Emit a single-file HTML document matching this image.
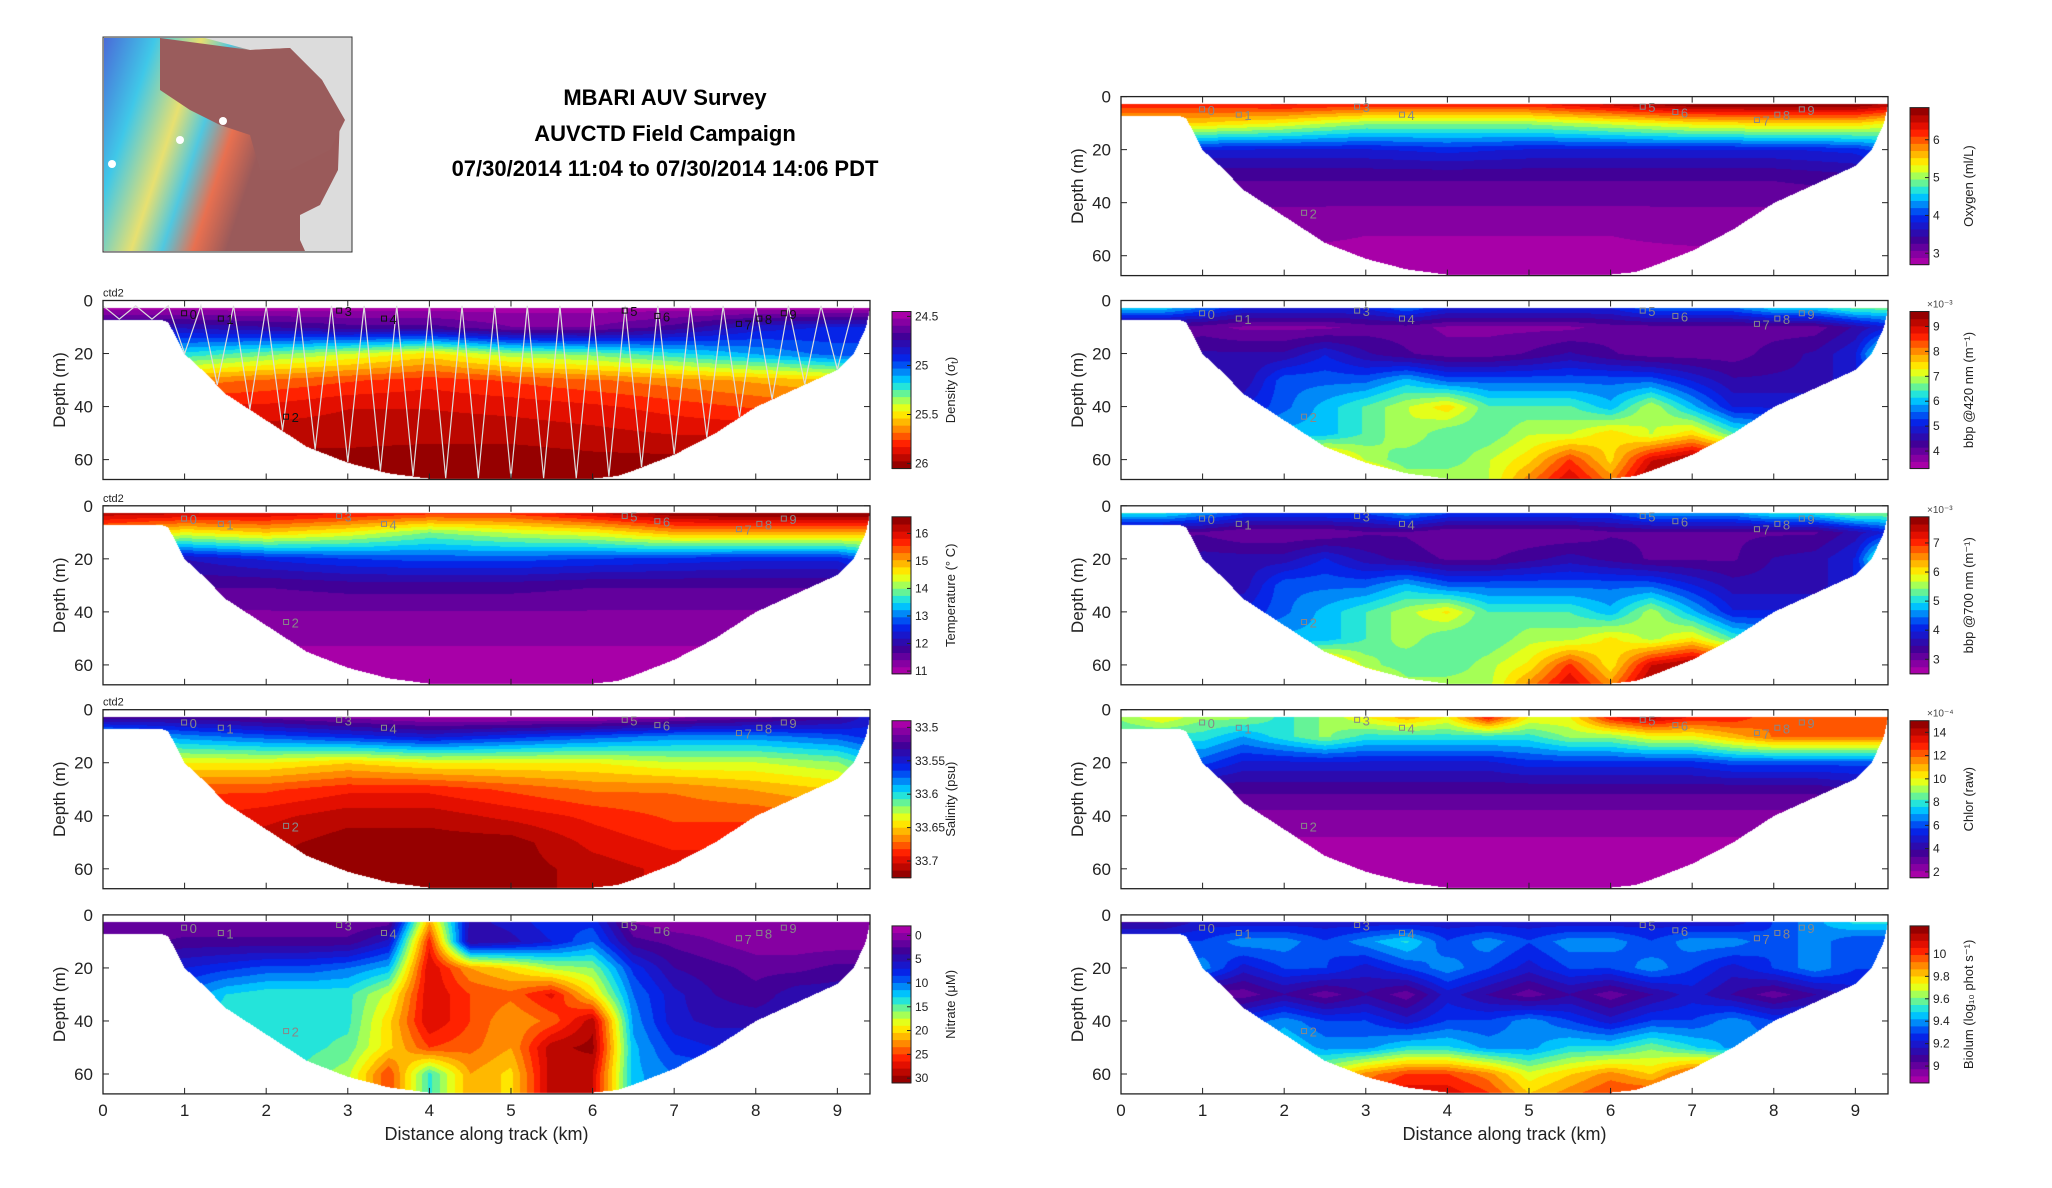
<!DOCTYPE html>
<html><head><meta charset="utf-8">
<style>
html,body{margin:0;padding:0;background:#fff;}
#root{position:relative;width:2052px;height:1188px;overflow:hidden;font-family:"Liberation Sans",sans-serif;}
canvas{position:absolute;}
svg{position:absolute;left:0;top:0;}
.t{font-family:"Liberation Sans",sans-serif;}
</style></head>
<body>
<div id="root">
<svg id="ov" width="2052" height="1188">
  <defs>
    <linearGradient id="mapg" x1="0" y1="0" x2="1" y2="0.3">
      <stop offset="0" stop-color="#4a6bd8"/><stop offset="0.2" stop-color="#40c8e8"/>
      <stop offset="0.38" stop-color="#e8e070"/><stop offset="0.5" stop-color="#50c8e0"/>
      <stop offset="0.62" stop-color="#e87050"/><stop offset="0.75" stop-color="#9a5a5a"/>
    </linearGradient>
  </defs>
  <g>
    <rect x="103" y="37" width="249" height="215" fill="#dcdcdc" stroke="#333" stroke-width="1"/>
    <path d="M104,38 L205,38 L250,50 L290,48 L322,80 L340,115 L338,170 L320,205 L300,215 L300,240 L305,251 L104,251 Z" fill="url(#mapg)"/>
    <path d="M160,38 L250,50 L290,48 L322,80 L345,120 L330,150 L290,170 L260,170 L250,135 L220,125 L190,110 L160,90 Z" fill="#9a5c5c"/>
    <circle cx="112" cy="164" r="4" fill="#fff"/><circle cx="180" cy="140" r="4" fill="#fff"/><circle cx="223" cy="121" r="4" fill="#fff"/>
  </g>
  <g font-weight="bold" font-size="22" text-anchor="middle" class="t">
    <text x="665" y="105">MBARI AUV Survey</text>
    <text x="665" y="141">AUVCTD Field Campaign</text>
    <text x="665" y="176">07/30/2014 11:04 to 07/30/2014 14:06 PDT</text>
  </g>
</svg>
</div>
<script>
// ---- shared data ----
const bathyKm = [0,0.7,0.8,0.9,1.0,1.25,1.5,2,2.5,3,3.5,4,5,6,6.3,6.5,7,7.5,8,8.5,9,9.2,9.35,9.4];
const bathyDepth = [7,7,8,14,20,27,35,45,55,61,65,67,67,67,66,64,58,50,40,33,26,20,10,3];
const gridDepths = [3,10,20,30,40,50,60,67];
const xs11 = [0,1,2,3,4,5,6,7,8,9,9.4];
const xs20 = [0,0.5,1,1.5,2,2.5,3,3.5,4,4.5,5,5.5,6,6.5,7,7.5,8,8.5,9,9.4];
const xTicks = [0,1,2,3,4,5,6,7,8,9];
const yTicks = [0,20,40,60];
const stationKm = [1.0,1.45,2.25,2.9,3.45,6.4,6.8,7.8,8.05,8.35];
const stationDepth = [5,7,44,4,7,4,6,9,7,5];
const stationLabel = ['0','1','2','3','4','5','6','7','8','9'];

const densityGrid = [
 [24.5,24.5,24.5,24.5,24.5,24.5,24.5,24.5,24.5,24.5,24.5],
 [24.8,24.8,24.75,24.7,24.7,24.6,24.6,24.7,24.85,24.9,24.9],
 [25.1,25.2,25.3,25.4,25.5,25.35,25.3,25.2,25.1,25.0,25.0],
 [25.6,25.65,25.7,25.75,25.8,25.75,25.7,25.65,25.6,25.55,25.5],
 [25.8,25.85,25.85,25.9,25.9,25.88,25.85,25.8,25.75,25.7,25.7],
 [25.95,25.95,25.95,25.95,25.95,25.95,25.93,25.9,25.9,25.9,25.9],
 [26.0,26.0,26.0,26.0,26.02,26.02,26.0,26.0,26.0,26.0,26.0],
 [26.05,26.05,26.05,26.05,26.05,26.05,26.05,26.05,26.05,26.05,26.05]];
const tempGrid = [
 [16.2,16.1,16.0,15.8,15.6,15.6,16.0,16.5,16.6,16.6,16.6],
 [15.0,14.5,14.8,14.5,14.0,14.3,14.5,15.0,15.0,15.0,15.0],
 [12.2,12.2,12.5,12.7,12.8,12.8,12.7,12.6,12.5,12.5,13.0],
 [11.7,11.7,11.7,11.8,11.8,11.8,11.7,11.7,11.7,11.7,11.8],
 [11.4,11.4,11.4,11.4,11.4,11.4,11.4,11.4,11.4,11.4,11.4],
 [11.2,11.2,11.2,11.2,11.2,11.2,11.2,11.2,11.2,11.2,11.2],
 [11.05,11.05,11.05,11.05,11.05,11.05,11.05,11.05,11.05,11.05,11.05],
 [11.0,11.0,11.0,11.0,11.0,11.0,11.0,11.0,11.0,11.0,11.0]];
const salinityGrid = [
 [33.53,33.53,33.52,33.51,33.5,33.5,33.5,33.51,33.52,33.53,33.55],
 [33.6,33.58,33.57,33.56,33.55,33.56,33.57,33.58,33.58,33.57,33.56],
 [33.64,33.64,33.64,33.65,33.64,33.64,33.64,33.63,33.63,33.62,33.6],
 [33.68,33.68,33.68,33.69,33.69,33.68,33.67,33.67,33.66,33.65,33.64],
 [33.69,33.69,33.7,33.71,33.71,33.7,33.69,33.68,33.68,33.67,33.66],
 [33.71,33.71,33.71,33.72,33.72,33.72,33.7,33.69,33.69,33.69,33.69],
 [33.72,33.72,33.72,33.72,33.72,33.72,33.71,33.7,33.7,33.7,33.7],
 [33.72,33.72,33.72,33.72,33.72,33.72,33.71,33.7,33.7,33.7,33.7]];
const nitrateGrid = [
 [1,1,1,1,1,1,1,2,22,5,6,8,8,1,0,0,0,0,0,0],
 [2,2,3,3,3,3,3,6,26,4,5,7,10,3,2,1,0,0,0,0],
 [6,6,7,8,9,9,10,12,28,22,20,17,16,8,4,3,2,2,3,3],
 [8,8,10,13,14,14,14,18,28,25,24,27,20,10,6,4,3,5,5,5],
 [10,10,12,14,14,14,14,20,28,25,22,24,29,11,6,5,5,5,5,5],
 [13,13,13,14,14,14,15,20,25,24,22,29,30,12,8,7,7,7,7,7],
 [14,14,14,14,14,15,17,25,14,22,20,29,28,12,10,10,10,10,10,10],
 [14,14,14,14,14,15,17,25,14,22,20,29,28,12,10,10,10,10,10,10]];
const oxygenGrid = [
 [6.2,6.2,6.3,6.2,6.2,6.2,6.5,6.8,6.8,6.8,6.6],
 [5.5,5.5,5.3,5.0,5.0,5.0,5.2,5.4,5.5,5.5,5.3],
 [3.8,3.8,3.8,3.8,3.9,3.8,3.8,3.8,3.8,3.9,4.2],
 [3.3,3.3,3.3,3.3,3.3,3.3,3.3,3.3,3.3,3.4,3.5],
 [3.1,3.1,3.1,3.1,3.1,3.1,3.1,3.1,3.1,3.1,3.1],
 [2.95,2.95,2.95,2.9,2.9,2.9,2.9,2.95,2.95,2.95,2.95],
 [2.85,2.85,2.85,2.85,2.85,2.85,2.85,2.85,2.85,2.85,2.85],
 [2.85,2.85,2.85,2.85,2.85,2.85,2.85,2.85,2.85,2.85,2.85]];
const bbp420Grid = [
 [6,6,5.5,5,5,5,5,5.5,5,5,5,5,5,5.5,5.5,5.5,6,6,6.5,6.5],
 [4,4,4,3.8,3.8,3.8,4,4,3.8,3.8,3.8,3.8,4,4,4,4,4,4,4.5,5],
 [4,4,4.5,4.5,4.5,5,4.5,4.2,4,4,4.2,4.5,4.2,4,4,4,4.3,4.5,5,7],
 [4.5,4.5,4.5,4.5,5.5,5.5,5.5,6,5.5,5.5,5.5,5.5,5.5,5.5,5,4.5,4.5,4.5,5,5],
 [5,5,5,5,5.5,6,6.5,7,7.5,6.5,6.5,6.5,6,7,6,5,5,5,5,5],
 [6,6,6,6,6,6,6.5,7,6.5,6.5,7,7,7.5,7,7.5,6.5,6,6,6,6],
 [7,7,7,7,7,8,7,6.5,6.5,7,7.5,8.5,7.5,9,9.5,9,7,7,7,7],
 [7,7,7,7,7,8.5,8,7,7,7,8,9,8,9.5,9.5,9,7,7,7,7]];
const bbp700Grid = [
 [5,5,4.6,4.2,4.2,4.2,4.2,4.6,4.2,4.2,4.2,4.2,4.2,4.6,4.6,4.6,5,5,5.4,5.4],
 [3.2,3.2,3.2,3,3,3,3.2,3.2,3,3,3,3,3.2,3.2,3.2,3.2,3.2,3.2,3.6,4],
 [3.2,3.2,3.6,3.6,3.6,4,3.6,3.4,3.2,3.2,3.4,3.6,3.4,3.2,3.2,3.2,3.5,3.6,4,6],
 [3.6,3.6,3.6,3.6,4.4,4.4,4.4,4.8,4.4,4.4,4.4,4.4,4.4,4.4,4,3.6,3.6,3.6,4,4],
 [4,4,4,4,4.4,4.8,5.2,5.6,6,5.2,5.2,5.2,4.8,5.6,4.8,4,4,4,4,4],
 [4.8,4.8,4.8,4.8,4.8,4.8,5.2,5.6,5.2,5.2,5.6,5.6,6,5.6,6,5.2,4.8,4.8,4.8,4.8],
 [5.6,5.6,5.6,5.6,5.6,6.5,5.6,5.2,5.2,5.6,6,7,6,7.4,7.8,7.4,5.6,5.6,5.6,5.6],
 [5.6,5.6,5.6,5.6,5.6,7,6.5,5.6,5.6,5.6,6.5,7.4,6.5,7.8,7.8,7.4,5.6,5.6,5.6,5.6]];
const chlorGrid = [
 [9,10,9,9,8,9,10,11,10,13,10,10,13,14,13,13,12,12,12,12],
 [8,8,8,7,8,9,8,8,8,8,8,9,9,10,10,11,12,12,12,12],
 [6,6,6,5,5,5,5,5,5,5,5.5,5.5,5.5,5.5,5.5,6,6,6,6,6],
 [3.5,3.5,3.5,3.5,3.5,3.5,3.5,3.5,3.5,3.5,3.5,3.5,3.5,3.5,3.5,3.5,3.5,3.5,4,4],
 [2.5,2.5,2.5,2.5,2.5,2.5,2.5,2.5,2.5,2.5,2.5,2.5,2.5,2.5,2.5,2.5,2.5,2.5,2.5,2.5],
 [2,2,2,2,2,2,2,2,2,2,2,2,2,2,2,2,2,2,2,2],
 [2,2,2,2,2,2,2,2,2,2,2,2,2,2,2,2,2,2,2,2],
 [2,2,2,2,2,2,2,2,2,2,2,2,2,2,2,2,2,2,2,2]];
const biolumGrid = [
 [9.1,9.1,9.2,9.2,9.2,9.2,9.2,9.2,9.2,9.2,9.2,9.2,9.2,9.2,9.2,9.2,9.3,9.4,9.5,9.5],
 [9.3,9.3,9.3,9.4,9.4,9.3,9.4,9.5,9.3,9.4,9.3,9.4,9.4,9.3,9.4,9.4,9.3,9.4,9.3,9.3],
 [9.3,9.3,9.4,9.2,9.3,9.3,9.2,9.3,9.4,9.3,9.2,9.3,9.3,9.4,9.3,9.2,9.3,9.4,9.3,9.3],
 [9.1,9.1,9.0,9.0,9.1,9.0,9.1,9.0,9.2,9.1,9.0,9.1,9.0,9.1,9.2,9.1,9.0,9.1,9.2,9.2],
 [9.2,9.2,9.2,9.3,9.4,9.3,9.3,9.2,9.3,9.3,9.4,9.3,9.2,9.3,9.3,9.4,9.3,9.3,9.3,9.3],
 [9.4,9.4,9.4,9.4,9.5,9.4,9.4,9.5,9.5,9.4,9.4,9.5,9.5,9.6,9.5,9.4,9.4,9.4,9.4,9.4],
 [9.5,9.5,9.5,9.5,9.6,9.7,9.9,10.0,10.0,9.9,9.7,9.8,9.9,9.8,10.0,10.1,9.6,9.5,9.5,9.5],
 [9.5,9.5,9.5,9.5,9.6,9.8,10.0,10.1,10.1,10.0,9.8,9.9,10.0,10.0,10.1,10.1,9.6,9.5,9.5,9.5]];

const densityTicks = [24.5,25,25.5,26];
const tempTicks = [11,12,13,14,15,16];
const salinityTicks = [33.5,33.55,33.6,33.65,33.7];
const nitrateTicks = [0,5,10,15,20,25,30];
const oxygenTicks = [3,4,5,6];
const bbp420Ticks = [4,5,6,7,8,9];
const bbp700Ticks = [3,4,5,6,7];
const chlorTicks = [2,4,6,8,10,12,14];
const biolumTicks = [9,9.2,9.4,9.6,9.8,10];

const LX=103, RX=1121, AW=767, AH=179, XMAX=9.4, DMAX=67.5;
const leftTops=[300.5,505.8,709.7,914.9], rightTops=[96.6,300.5,505.8,709.7,914.9];

const panels = [
 {name:'density',x0:LX,y0:leftTops[0],grid:densityGrid,xs:xs11,vmin:24.45,vmax:26.05,flip:true,ticks:densityTicks,label:'Density (σ',labelSub:'t',labelEnd:')',ctd:true,zig:true,markDark:true},
 {name:'temperature',x0:LX,y0:leftTops[1],grid:tempGrid,xs:xs11,vmin:10.9,vmax:16.6,flip:false,ticks:tempTicks,label:'Temperature (° C)',ctd:true},
 {name:'salinity',x0:LX,y0:leftTops[2],grid:salinityGrid,xs:xs11,vmin:33.49,vmax:33.725,flip:true,ticks:salinityTicks,label:'Salinity (psu)',ctd:true},
 {name:'nitrate',x0:LX,y0:leftTops[3],grid:nitrateGrid,xs:xs20,vmin:-2,vmax:31,flip:true,ticks:nitrateTicks,label:'Nitrate (μM)',bottom:true},
 {name:'oxygen',x0:RX,y0:rightTops[0],grid:oxygenGrid,xs:xs11,vmin:2.7,vmax:6.85,flip:false,ticks:oxygenTicks,label:'Oxygen (ml/L)'},
 {name:'bbp420',x0:RX,y0:rightTops[1],grid:bbp420Grid,xs:xs20,vmin:3.3,vmax:9.6,flip:false,ticks:bbp420Ticks,label:'bbp @420 nm (m⁻¹)',exp:'×10⁻³'},
 {name:'bbp700',x0:RX,y0:rightTops[2],grid:bbp700Grid,xs:xs20,vmin:2.5,vmax:7.9,flip:false,ticks:bbp700Ticks,label:'bbp @700 nm (m⁻¹)',exp:'×10⁻³'},
 {name:'chlorophyll',x0:RX,y0:rightTops[3],grid:chlorGrid,xs:xs20,vmin:1.5,vmax:15,flip:false,ticks:chlorTicks,label:'Chlor (raw)',exp:'×10⁻⁴'},
 {name:'bioluminescence',x0:RX,y0:rightTops[4],grid:biolumGrid,xs:xs20,vmin:8.85,vmax:10.25,flip:false,ticks:biolumTicks,label:'Biolum (log₁₀ phot s⁻¹)',bottom:true}
];

const stops=[[0,[168,0,168]],[0.15,[60,0,150]],[0.3,[0,40,240]],[0.45,[0,220,255]],[0.56,[150,255,100]],[0.64,[255,255,0]],[0.75,[255,150,0]],[0.87,[255,20,0]],[1,[150,0,0]]];
function cmap(t){t=Math.max(0,Math.min(1,t));for(let i=1;i<stops.length;i++){if(t<=stops[i][0]){const a=stops[i-1],b=stops[i];const f=(t-a[0])/(b[0]-a[0]);return [0,1,2].map(k=>Math.round(a[1][k]+f*(b[1][k]-a[1][k])));}}return stops[stops.length-1][1];}
function interp1(xa,ya,x){if(x<=xa[0])return ya[0];for(let i=1;i<xa.length;i++){if(x<=xa[i]){const f=(x-xa[i-1])/(xa[i]-xa[i-1]);return ya[i-1]+f*(ya[i]-ya[i-1]);}}return ya[ya.length-1];}
function idx(a,v){if(v<=a[0])return [0,0];for(let i=1;i<a.length;i++){if(v<=a[i])return [i-1,(v-a[i-1])/(a[i]-a[i-1])];}return [a.length-2,1];}
function sample(grid,xsA,x,d){const [i,fi]=idx(xsA,x),[j,fj]=idx(gridDepths,d);const a=grid[j][i],b=grid[j][i+1],c=grid[j+1][i],e=grid[j+1][i+1];return (a*(1-fi)+b*fi)*(1-fj)+(c*(1-fi)+e*fi)*fj;}

const root=document.getElementById('root');
const ov=document.getElementById('ov');
const NS='http://www.w3.org/2000/svg';
function el(tag,attrs,parent){const e=document.createElementNS(NS,tag);for(const k in attrs)e.setAttribute(k,attrs[k]);(parent||ov).appendChild(e);return e;}

panels.forEach(p=>{
  const xScale=km=>p.x0+km/XMAX*AW;
  const yScale=d=>p.y0+d/DMAX*AH;
  // field
  const cv=document.createElement('canvas');
  
  
  cv.width=AW;cv.height=Math.round(AH);cv.style.left=p.x0+'px';cv.style.top=Math.round(p.y0)+'px';
  root.insertBefore(cv,ov);
  const ctx=cv.getContext('2d');const img=ctx.createImageData(cv.width,cv.height);
  const N=22;
  for(let px=0;px<cv.width;px++){
    const km=(px+0.5)/AW*XMAX;const bot=interp1(bathyKm,bathyDepth,km);
    for(let py=0;py<cv.height;py++){
      const d=(py+0.5)/AH*DMAX;const o=(py*cv.width+px)*4;
      if(d<2.5||d>bot){img.data[o]=255;img.data[o+1]=255;img.data[o+2]=255;img.data[o+3]=255;continue;}
      const v=sample(p.grid,p.xs,km,d);let t=(v-p.vmin)/(p.vmax-p.vmin);t=Math.min(N-1,Math.floor(t*N))/(N-1);
      const c=cmap(t);img.data[o]=c[0];img.data[o+1]=c[1];img.data[o+2]=c[2];img.data[o+3]=255;
    }
  }
  ctx.putImageData(img,0,0);
  const g=el('g',{});
  
  
  if(p.zig){
    let pts=[];for(let k=0;k<=46;k++){const km=k*0.2;const bot=interp1(bathyKm,bathyDepth,km);pts.push(xScale(km)+','+yScale(k%2?bot:2));}
    const pl=el('polyline',{points:pts.join(' '),fill:'none',stroke:'#ddd','stroke-width':1.2},g);
    
    
  }
  stationKm.forEach((km,i)=>{
    const col=p.markDark?'#111':'#888';
    el('rect',{x:xScale(km)-3,y:yScale(stationDepth[i])-3,width:5,height:5,fill:'none',stroke:col,'stroke-width':1},g);
    const tx=el('text',{x:xScale(km)+5,y:yScale(stationDepth[i])+5,'font-size':13,fill:col,class:'t'},g);tx.textContent=stationLabel[i];
    
    
  });
  el('rect',{x:p.x0,y:p.y0,width:AW,height:AH,fill:'none',stroke:'#222','stroke-width':1.3},g);
  xTicks.forEach(v=>{const x=xScale(v);el('line',{x1:x,x2:x,y1:p.y0+AH,y2:p.y0+AH-6,stroke:'#222'},g);el('line',{x1:x,x2:x,y1:p.y0,y2:p.y0+6,stroke:'#222'},g);
    if(p.bottom){const t=el('text',{x:x,y:p.y0+AH+22,'font-size':17,'text-anchor':'middle',fill:'#222',class:'t'},g);t.textContent=v;}});
  yTicks.forEach(v=>{const y=yScale(v);el('line',{x1:p.x0,x2:p.x0+6,y1:y,y2:y,stroke:'#222'},g);el('line',{x1:p.x0+AW,x2:p.x0+AW-6,y1:y,y2:y,stroke:'#222'},g);
    const t=el('text',{x:p.x0-10,y:y+6,'font-size':17,'text-anchor':'end',fill:'#222',class:'t'},g);t.textContent=v;});
  const yl=el('text',{transform:`translate(${p.x0-38},${p.y0+AH/2}) rotate(-90)`,'font-size':17,'text-anchor':'middle',fill:'#222',class:'t'},g);yl.textContent='Depth (m)';
  
  
  if(p.bottom){const xl=el('text',{x:p.x0+AW/2,y:p.y0+AH+46,'font-size':18,'text-anchor':'middle',fill:'#222',class:'t'},g);xl.textContent='Distance along track (km)';
    
    }
  if(p.ctd){const c=el('text',{x:p.x0,y:p.y0-4,'font-size':11,fill:'#222',class:'t'},g);c.textContent='ctd2';}
  // colorbar
  const cx=p.x0+AW+22,cw=19,ct=p.y0+11,ch=AH-22;
  const cb=el('g',{},g);
  
  
  const cbY=v=>{const t=(v-p.vmin)/(p.vmax-p.vmin);return p.flip?ct+t*ch:ct+(1-t)*ch;};
  const N2=22;
  for(let k=0;k<N2;k++){const t=k/(N2-1);const c=cmap(t);const ya=p.flip?ct+k/N2*ch:ct+(1-(k+1)/N2)*ch;
    el('rect',{x:cx,y:ya,width:cw,height:ch/N2+0.6,fill:`rgb(${c[0]},${c[1]},${c[2]})`},cb);}
  el('rect',{x:cx,y:ct,width:cw,height:ch,fill:'none',stroke:'#222'},cb);
  p.ticks.forEach(v=>{const y=cbY(v);el('line',{x1:cx+cw-4,x2:cx+cw,y1:y,y2:y,stroke:'#222'},cb);
    const t=el('text',{x:cx+cw+4,y:y+4,'font-size':12,fill:'#222',class:'t'},cb);t.textContent=v;});
  if(p.exp){const t=el('text',{x:cx+cw-2,y:ct-4,'font-size':10,fill:'#444',class:'t'},cb);t.textContent=p.exp;}
  const lb=el('text',{transform:`translate(${cx+cw+44},${ct+ch/2}) rotate(-90)`,'font-size':13,'text-anchor':'middle',fill:'#222',class:'t'},cb);
  lb.textContent=p.label;
  if(p.labelSub){const s=el('tspan',{'font-size':10,dy:3},lb);s.textContent=p.labelSub;const e=el('tspan',{dy:-3},lb);e.textContent=p.labelEnd;}
});
</script>
</body></html>
